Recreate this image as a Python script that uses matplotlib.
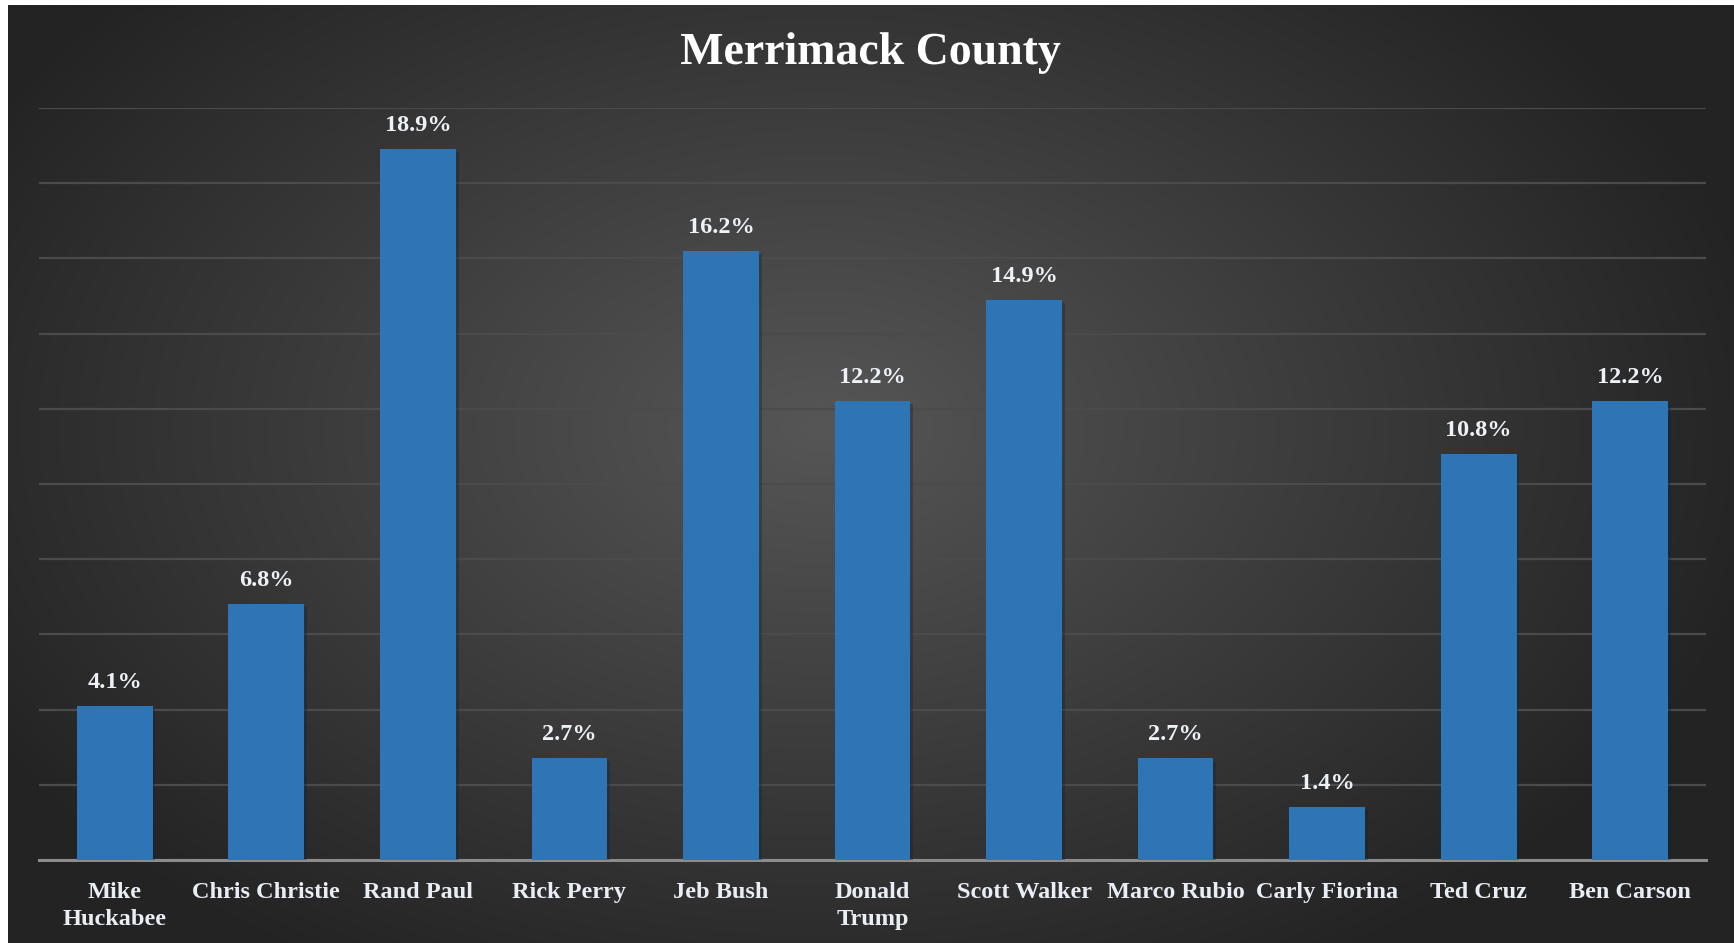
import numpy as np
import matplotlib
matplotlib.use("Agg")
import matplotlib.pyplot as plt
import matplotlib.patheffects as pe

candidates = ["Mike\nHuckabee", "Chris Christie", "Rand Paul", "Rick Perry", "Jeb Bush",
              "Donald\nTrump", "Scott Walker", "Marco Rubio", "Carly Fiorina", "Ted Cruz", "Ben Carson"]
shares = [4.1, 6.8, 18.9, 2.7, 16.2, 12.2, 14.9, 2.7, 1.4, 10.8, 12.2]
title = "Merrimack County"

W, H = 1734, 943
fig = plt.figure(figsize=(W / 100, H / 100), dpi=100)
fig.patch.set_facecolor("white")

# background with radial gradient
bg = fig.add_axes([8 / W, 0, 1 - 8 / W, 1 - 5 / H])
bg.set_axis_off()
yy, xx = np.mgrid[0:1:400j, 0:1:800j]
d = np.sqrt(((xx - 0.47) / 0.75) ** 2 + ((yy - 0.55) / 0.9) ** 2)
d = np.clip(d / 0.75, 0, 1)
lo, hi = np.array([0x56, 0x56, 0x56]) / 255, np.array([0x23, 0x23, 0x23]) / 255
img = lo[None, None, :] * (1 - d[..., None]) + hi[None, None, :] * d[..., None]
bg.imshow(img, aspect="auto", extent=[0, 1, 0, 1], origin="lower")
bg.set_xlim(0, 1)
bg.set_ylim(0, 1)

left, right, bottom, top = 39, 1706, 860, 108
ax = fig.add_axes([left / W, 1 - bottom / H, (right - left) / W, (bottom - top) / H])
ax.set_facecolor("none")
x = np.arange(len(candidates))
ax.set_xlim(-0.5, len(candidates) - 0.5)
ax.set_ylim(0, 20)
ax.set_yticks(np.arange(0, 21, 2))
ax.grid(axis="y", color="#4b4b4b", linewidth=1.6)
ax.set_axisbelow(True)
for s in ["left", "right", "top"]:
    ax.spines[s].set_visible(False)
ax.spines["bottom"].set_color("#8c8c8c")
ax.spines["bottom"].set_linewidth(2.2)
ax.tick_params(axis="y", left=False, labelleft=False)
ax.tick_params(axis="x", bottom=False, pad=12.5)

bars = ax.bar(x, shares, width=0.5, color="#2E75B6", zorder=3,
              path_effects=[pe.SimplePatchShadow(offset=(2, -2), alpha=0.35), pe.Normal()])
ax.set_xticks(x)
ax.set_xticklabels(candidates, fontfamily="Liberation Serif", fontweight="bold",
                   fontsize=17.5, color="#e9eef5", linespacing=1.35, va="top")
for xi, v in zip(x, shares):
    ax.annotate(f"{v:.1f}%", (xi, v), xytext=(0, 9.5), textcoords="offset points",
                ha="center", va="bottom", fontfamily="Liberation Serif", fontweight="bold",
                fontsize=17.5, color="#eef2f7")

fig.text(871 / W, 1 - 53 / H, title, ha="center", va="center", fontfamily="Liberation Serif",
         fontweight="bold", fontsize=33, color="white",
         path_effects=[pe.SimpleLineShadow(offset=(2, -2)), pe.Normal()])

fig.savefig("out.png", dpi=100, facecolor="white")
